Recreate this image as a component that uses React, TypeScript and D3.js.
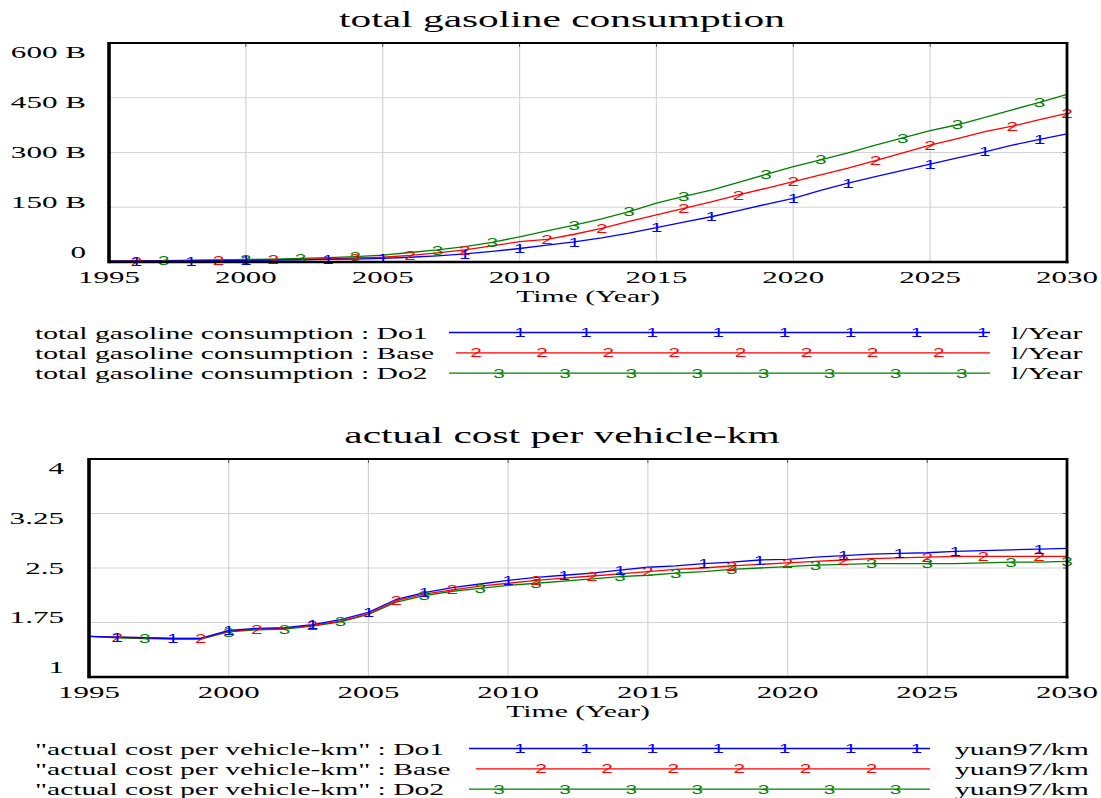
import React from "react";
import * as d3 from "d3";

// ---------- DATA ----------
const years = [
  1995, 1996, 1997, 1998, 1999, 2000, 2001, 2002, 2003, 2004, 2005, 2006,
  2007, 2008, 2009, 2010, 2011, 2012, 2013, 2014, 2015, 2016, 2017, 2018,
  2019, 2020, 2021, 2022, 2023, 2024, 2025, 2026, 2027, 2028, 2029, 2030,
];

// total gasoline consumption, billions of l/Year
const gasDo1 = [
  2, 2, 3, 3, 4, 4, 5, 6, 7, 8, 10, 13, 17, 22, 29, 37, 46, 55, 66, 79, 94,
  109, 124, 141, 158, 174, 196, 216, 234, 251, 268, 285, 302, 320, 336, 351,
];
const gasBase = [
  2, 3, 3, 4, 5, 5, 6, 7, 9, 11, 13, 18, 25, 33, 44, 56, 62, 76, 92, 111, 129,
  147, 165, 184, 202, 220, 239, 257, 278, 299, 320, 338, 357, 372, 390, 407,
];
const gasDo2 = [
  2, 3, 4, 5, 6, 7, 8, 10, 12, 15, 19, 26, 33, 42, 54, 69, 85, 101, 118, 138,
  161, 180, 197, 218, 240, 261, 280, 299, 320, 340, 360, 376, 396, 417, 437, 459,
];

// actual cost per vehicle-km, yuan97/km
const costDo1 = [
  1.56, 1.55, 1.54, 1.53, 1.53, 1.64, 1.67, 1.68, 1.72, 1.79, 1.89, 2.07,
  2.16, 2.23, 2.28, 2.33, 2.37, 2.4, 2.43, 2.47, 2.51, 2.53, 2.56, 2.58,
  2.61, 2.62, 2.65, 2.67, 2.69, 2.7, 2.71, 2.73, 2.74, 2.75, 2.76, 2.77,
];
const costBase = [
  1.56, 1.55, 1.54, 1.53, 1.53, 1.63, 1.66, 1.67, 1.71, 1.77, 1.87, 2.05,
  2.14, 2.2, 2.25, 2.29, 2.33, 2.36, 2.39, 2.42, 2.45, 2.48, 2.5, 2.53,
  2.55, 2.57, 2.59, 2.61, 2.63, 2.64, 2.65, 2.66, 2.66, 2.66, 2.66, 2.66,
];
const costDo2 = [
  1.56, 1.54, 1.53, 1.52, 1.52, 1.62, 1.65, 1.66, 1.7, 1.76, 1.86, 2.03,
  2.12, 2.18, 2.22, 2.26, 2.29, 2.32, 2.35, 2.38, 2.4, 2.43, 2.45, 2.48,
  2.5, 2.52, 2.54, 2.55, 2.56, 2.56, 2.56, 2.56, 2.57, 2.58, 2.58, 2.59,
];

// years at which the series number markers sit
const gasMarks1 = [1996, 1998, 2000, 2003, 2005, 2008, 2010, 2012, 2015, 2017, 2020, 2022, 2025, 2027, 2029];
const gasMarks2 = [1996, 1999, 2001, 2004, 2006, 2008, 2011, 2013, 2016, 2018, 2020, 2023, 2025, 2028, 2030];
const gasMarks3 = [1997, 2000, 2002, 2004, 2007, 2009, 2012, 2014, 2016, 2019, 2021, 2024, 2026, 2029];
const costMarks1 = [1996, 1998, 2000, 2003, 2005, 2007, 2010, 2012, 2014, 2017, 2019, 2022, 2024, 2026, 2029];
const costMarks2 = [1996, 1999, 2001, 2003, 2006, 2008, 2011, 2013, 2015, 2018, 2020, 2022, 2025, 2027, 2029];
const costMarks3 = [1997, 2000, 2002, 2004, 2007, 2009, 2011, 2014, 2016, 2018, 2021, 2023, 2025, 2028, 2030];

const xTicks = [1995, 2000, 2005, 2010, 2015, 2020, 2025, 2030];
const gasTicks = [0, 150, 300, 450, 600];
const gasTickLabels = ["0", "150 B", "300 B", "450 B", "600 B"];
const costTicks = [1, 1.75, 2.5, 3.25, 4];
const costTickLabels = ["1", "1.75", "2.5", "3.25", "4"];

const runNames = ["Do1", "Base", "Do2"];
const runMarks = ["1", "2", "3"];
const colors = ["#0000FF", "#FF0000", "#008000"];

// ---------- helpers ----------
const SERIF = "'Liberation Serif', 'Times New Roman', serif";
const SANS = "'Liberation Sans', Arial, sans-serif";

function T(props: any) {
  const { x, y, sx = 1.8, size = 17, anchor = "start", fill = "#000", family = SERIF, children } = props;
  return (
    <text
      transform={`translate(${x},${y}) scale(${sx},1)`}
      fontSize={size}
      textAnchor={anchor}
      fontFamily={family}
      fill={fill}
    >
      {children}
    </text>
  );
}

function Mark(props: any) {
  const { x, y, color, label } = props;
  return (
    <text
      transform={`translate(${x},${y}) scale(1.6,1)`}
      fontSize={13}
      textAnchor="middle"
      dy="0.36em"
      fontFamily={SANS}
      fill={color}
    >
      {label}
    </text>
  );
}

type ChartProps = {
  title: string;
  titleY: number;
  box: { l: number; r: number; t: number; b: number };
  yDomain: [number, number];
  yTicks: number[];
  yTickLabels: string[];
  yLabelRight: number;
  series: number[][];
  marks: number[][];
  legendLabel: string;
  legendUnit: string;
  legend: { y0: number; lineStart: number[]; lineEnd: number; unitX: number; markStart: number[]; markCount: number[] };
};

function Chart(p: ChartProps) {
  const { box } = p;
  const x = d3.scaleLinear().domain([1995, 2030]).range([box.l, box.r]);
  const y = d3.scaleLinear().domain(p.yDomain).range([box.b, box.t]);
  // tick labels spread slightly inside the box (as in the source)
  const yl = d3.scaleLinear().domain(p.yDomain).range([box.b - 4, box.t + 15]);
  const line = d3
    .line<number>()
    .x((_, i) => x(years[i]))
    .y((d) => y(d));
  const midX = (box.l + box.r) / 2;
  const order = [2, 1, 0];

  return (
    <g>
      <T x={562} y={p.titleY} size={23} sx={1.8} anchor="middle">
        {p.title}
      </T>
      {/* grid */}
      {xTicks.slice(1, -1).map((t) => (
        <line key={"gx" + t} x1={x(t)} x2={x(t)} y1={box.t} y2={box.b} stroke="#d4d4d4" strokeWidth={1.2} />
      ))}
      {p.yTicks.slice(1, -1).map((t) => (
        <line key={"gy" + t} x1={box.l} x2={box.r} y1={y(t)} y2={y(t)} stroke="#d4d4d4" strokeWidth={1.2} />
      ))}
      {/* inner ticks on top / right border */}
      {xTicks.slice(1, -1).map((t) => (
        <line key={"tx" + t} x1={x(t)} x2={x(t)} y1={box.t} y2={box.t + 4} stroke="#555" strokeWidth={1} />
      ))}
      {p.yTicks.slice(1, -1).map((t) => (
        <line key={"ty" + t} x1={box.r - 4} x2={box.r} y1={y(t)} y2={y(t)} stroke="#555" strokeWidth={1} />
      ))}
      {/* series */}
      {order.map((i) => (
        <path key={"s" + i} d={line(p.series[i]) || ""} fill="none" stroke={colors[i]} strokeWidth={1.3} />
      ))}
      {order.map((i) =>
        p.marks[i].map((yr) => (
          <Mark key={"m" + i + "_" + yr} x={x(yr)} y={y(p.series[i][years.indexOf(yr)])} color={colors[i]} label={runMarks[i]} />
        ))
      )}
      {/* frame */}
      <line x1={box.l} x2={box.r} y1={box.t} y2={box.t} stroke="#000" strokeWidth={2.2} />
      <line x1={box.l} x2={box.r + 1.5} y1={box.b} y2={box.b} stroke="#000" strokeWidth={2.6} />
      <line x1={box.l} x2={box.l} y1={box.t - 1} y2={box.b + 1.3} stroke="#000" strokeWidth={3.6} />
      <line x1={box.r} x2={box.r} y1={box.t - 1} y2={box.b + 1.3} stroke="#000" strokeWidth={2.8} />
      {/* y labels */}
      {p.yTicks.map((t, i) => (
        <T key={"yl" + t} x={p.yLabelRight} y={yl(t)} anchor="end" sx={1.83}>
          {p.yTickLabels[i]}
        </T>
      ))}
      {/* x labels */}
      {xTicks.map((t) => (
        <T key={"xl" + t} x={x(t)} y={box.b + 20.5} anchor="middle" sx={1.82}>
          {String(t)}
        </T>
      ))}
      <T x={midX} y={box.b + 40} anchor="middle" sx={1.75}>
        Time (Year)
      </T>
      {/* legend */}
      {[0, 1, 2].map((i) => {
        const ly = p.legend.y0 + i * 20.3;
        const marksX = d3.range(p.legend.markCount[i]).map((k) => p.legend.markStart[i] + k * 66.1);
        return (
          <g key={"lg" + i}>
            <T x={35} y={ly} sx={1.74}>
              {p.legendLabel + " : " + runNames[i]}
            </T>
            <line x1={p.legend.lineStart[i]} x2={p.legend.lineEnd} y1={ly - 6} y2={ly - 6} stroke={colors[i]} strokeWidth={1.3} />
            {marksX.map((mx) => (
              <Mark key={"lm" + mx} x={mx} y={ly - 6} color={colors[i]} label={runMarks[i]} />
            ))}
            <T x={p.legend.unitX} y={ly} sx={1.75}>
              {p.legendUnit}
            </T>
          </g>
        );
      })}
    </g>
  );
}

export default function App() {
  return (
    <svg
      width={1101}
      height={798}
      style={{ position: "fixed", left: 0, top: 0, background: "#fff" }}
    >
      <rect x={0} y={0} width={1101} height={798} fill="#fff" />
      <Chart
        title="total gasoline consumption"
        titleY={27}
        box={{ l: 109, r: 1067, t: 43, b: 262 }}
        yDomain={[0, 600]}
        yTicks={gasTicks}
        yTickLabels={gasTickLabels}
        yLabelRight={86}
        series={[gasDo1, gasBase, gasDo2]}
        marks={[gasMarks1, gasMarks2, gasMarks3]}
        legendLabel="total gasoline consumption"
        legendUnit="l/Year"
        legend={{
          y0: 338.5,
          lineStart: [449, 456, 449],
          lineEnd: 990,
          unitX: 1011,
          markStart: [520, 476, 499],
          markCount: [8, 8, 8],
        }}
      />
      <Chart
        title="actual cost per vehicle-km"
        titleY={443}
        box={{ l: 89, r: 1067, t: 459, b: 677 }}
        yDomain={[1, 4]}
        yTicks={costTicks}
        yTickLabels={costTickLabels}
        yLabelRight={64}
        series={[costDo1, costBase, costDo2]}
        marks={[costMarks1, costMarks2, costMarks3]}
        legendLabel={'"actual cost per vehicle-km"'}
        legendUnit="yuan97/km"
        legend={{
          y0: 754.5,
          lineStart: [469, 476, 469],
          lineEnd: 930,
          unitX: 955,
          markStart: [520, 541, 499],
          markCount: [7, 6, 7],
        }}
      />
    </svg>
  );
}
